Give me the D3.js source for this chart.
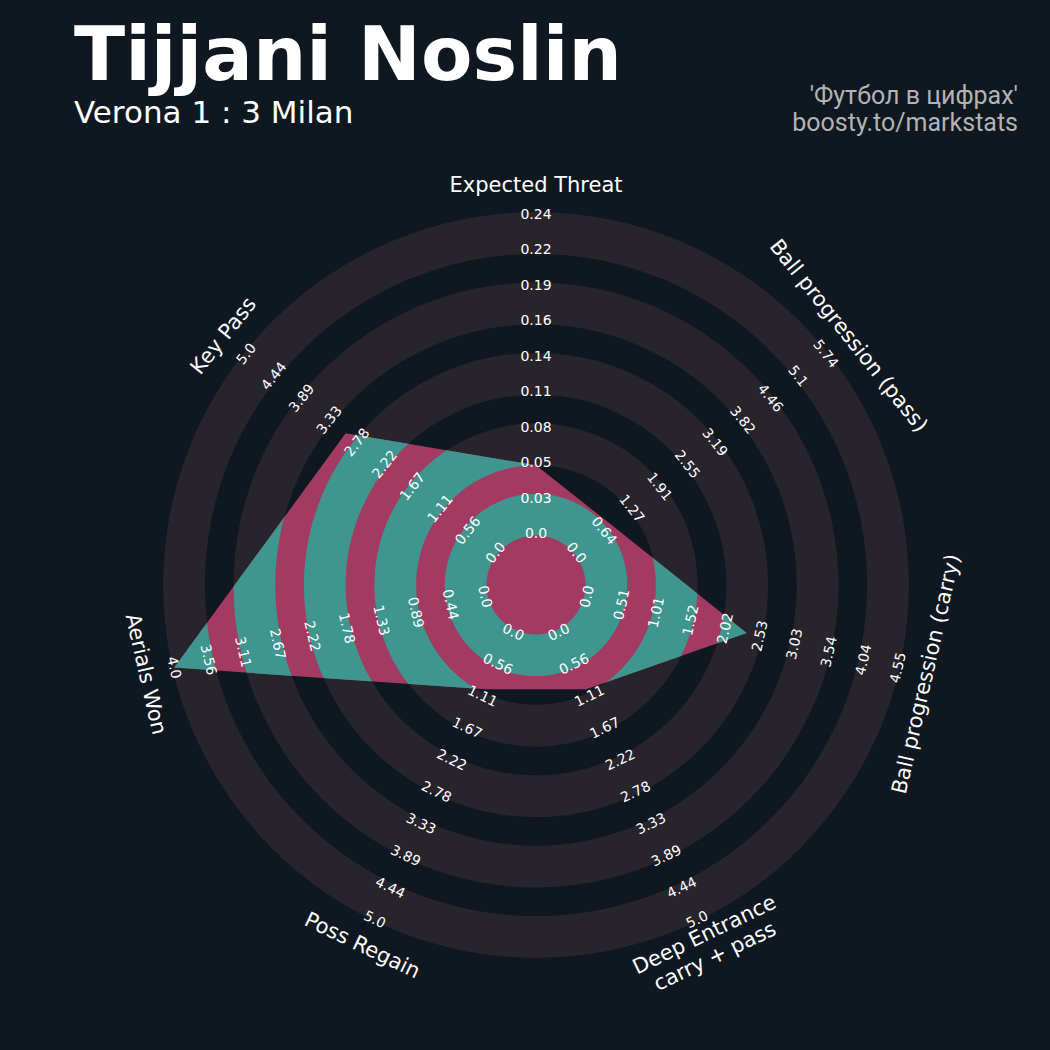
<!DOCTYPE html>
<html><head><meta charset="utf-8">
<script src="https://cdn.jsdelivr.net/npm/d3@7"></script>
<style>html,body{margin:0;padding:0;background:#0f1820;} svg{display:block;}</style>
</head><body><svg id="c" width="1050" height="1050"></svg>
<script>
// ---- data ----
const params = ["Expected Threat", "Ball progression (pass)", "Ball progression (carry)",
  "Deep Entrance\ncarry + pass", "Poss Regain", "Aerials Won", "Key Pass"];
const minRange = [0, 0, 0, 0, 0, 0, 0];
const maxRange = [0.245, 5.74, 4.55, 5, 5, 4, 5];
const values = [0.052, 0.8, 2.34, 1.0, 1.0, 4.0, 3.0];
const tickLabels = [
  ["0.0","0.03","0.05","0.08","0.11","0.14","0.16","0.19","0.22","0.24"],
  ["0.0","0.64","1.27","1.91","2.55","3.19","3.82","4.46","5.1","5.74"],
  ["0.0","0.51","1.01","1.52","2.02","2.53","3.03","3.54","4.04","4.55"],
  ["0.0","0.56","1.11","1.67","2.22","2.78","3.33","3.89","4.44","5.0"],
  ["0.0","0.56","1.11","1.67","2.22","2.78","3.33","3.89","4.44","5.0"],
  ["0.0","0.44","0.89","1.33","1.78","2.22","2.67","3.11","3.56","4.0"],
  ["0.0","0.56","1.11","1.67","2.22","2.78","3.33","3.89","4.44","5.0"]
];
const title = "Tijjani Noslin";
const subtitle = "Verona 1 : 3 Milan";
const credits = ["'Футбол в цифрах'", "boosty.to/markstats"];

// ---- layout ----
const W = 1050, H = 1050, cx = 536, cy = 585;
const R0 = 52, R1 = 371, labelR = 400;
const centerCircleR = 49.5, ringPeriod = 70.4, ringWidth = 41.8, nRings = 5;
const colBg = "#0f1820", colRing = "#28242b", colTeal = "#3e968f", colPink = "#a33a61";

const svg = d3.select("#c");
svg.append("rect").attr("width", W).attr("height", H).attr("fill", colBg);

const n = params.length;
const angleOf = i => i * 2 * Math.PI / n; // clockwise from top
const scales = params.map((p, i) => d3.scaleLinear().domain([minRange[i], maxRange[i]]).range([R0, R1]));

const g = svg.append("g").attr("transform", `translate(${cx},${cy})`);

const rings = d3.range(nRings).map(k => ({inner: centerCircleR + k * ringPeriod, outer: centerCircleR + k * ringPeriod + ringWidth}));
const arc = d3.arc().startAngle(0).endAngle(2 * Math.PI)
  .innerRadius(d => d.inner).outerRadius(d => d.outer);

// background rings
g.selectAll("path.ring").data(rings).join("path").attr("class", "ring")
  .attr("d", arc).attr("fill", colRing);

// radar polygon
const radarLine = d3.lineRadial()
  .angle((d, i) => angleOf(i))
  .radius((d, i) => scales[i](d))
  .curve(d3.curveLinearClosed);

svg.append("defs").append("clipPath").attr("id", "radarClip")
  .append("path").attr("d", radarLine(values));

g.append("path").attr("d", radarLine(values)).attr("fill", colPink);
g.append("g").attr("clip-path", "url(#radarClip)")
  .selectAll("path").data(rings).join("path").attr("d", arc).attr("fill", colTeal);

// rotation helper (degrees, screen)
function screenRot(i) {
  const theta = 90 - i * 360 / n; // math angle
  let rot = theta - 90;
  while (rot <= -180) rot += 360;
  while (rot > 180) rot -= 360;
  if (rot > 90) rot -= 180;
  if (rot < -90) rot += 180;
  return -rot;
}
function pos(i, r) {
  const a = angleOf(i);
  return [r * Math.sin(a), -r * Math.cos(a)];
}

// value labels
params.forEach((p, i) => {
  const tv = d3.range(tickLabels[i].length).map(k => minRange[i] + k * (maxRange[i] - minRange[i]) / (tickLabels[i].length - 1));
  const rot = screenRot(i);
  g.append("g").selectAll("text").data(tickLabels[i]).join("text")
    .attr("transform", (d, k) => { const [x, y] = pos(i, scales[i](tv[k])); return `translate(${x},${y}) rotate(${rot})`; })
    .attr("text-anchor", "middle").attr("dominant-baseline", "central")
    .attr("font-family", "DejaVu Sans").attr("font-size", 14).attr("fill", "#ffffff")
    .text(d => d);
});

// param labels
params.forEach((p, i) => {
  const [x, y] = pos(i, labelR);
  const lines = p.split("\n");
  const t = g.append("text")
    .attr("transform", `translate(${x},${y}) rotate(${screenRot(i)})`)
    .attr("text-anchor", "middle").attr("dominant-baseline", "central")
    .attr("font-family", "DejaVu Sans").attr("font-size", 21).attr("fill", "#ffffff");
  const lh = 1.15;
  lines.forEach((l, k) => {
    t.append("tspan").attr("x", 0)
      .attr("dy", k === 0 ? `${-(lines.length - 1) * lh / 2}em` : `${lh}em`)
      .text(l);
  });
});

// titles
svg.append("text").attr("x", 74).attr("y", 80)
  .attr("font-family", "DejaVu Sans").attr("font-weight", "bold").attr("font-size", 75)
  .attr("fill", "#ffffff").text(title);
svg.append("text").attr("x", 74).attr("y", 123)
  .attr("font-family", "DejaVu Sans").attr("font-size", 31)
  .attr("fill", "#ffffff").text(subtitle);
svg.selectAll("text.credit").data(credits).join("text").attr("class", "credit")
  .attr("x", 1018).attr("y", (d, k) => 104 + k * 27)
  .attr("text-anchor", "end").attr("font-family", "Roboto").attr("font-size", 25)
  .attr("fill", "#b3b3b3").text(d => d);
</script>
</body></html>
